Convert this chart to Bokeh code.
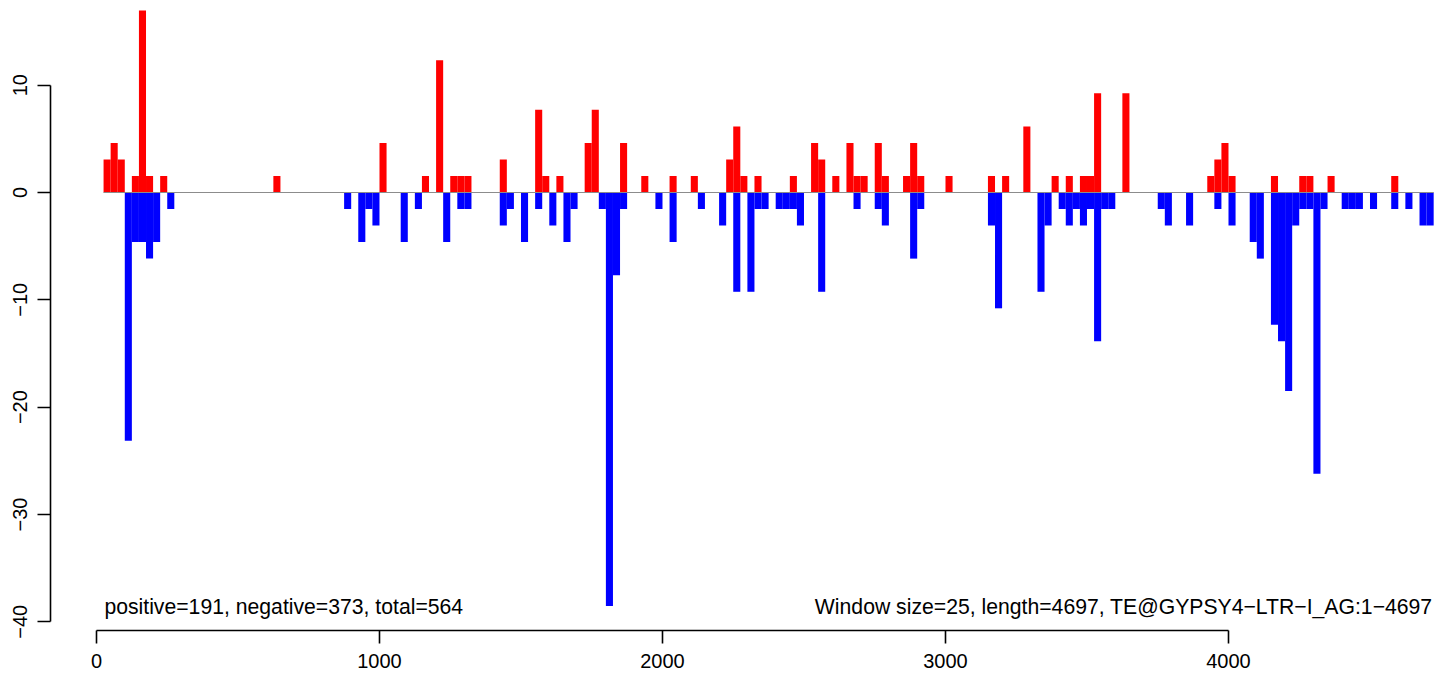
from bokeh.plotting import figure
from bokeh.models import Range1d, FixedTicker, Label
from bokeh.embed import file_html
from bokeh.resources import INLINE

# ---- data ----
window_size = 25
plus_start = [25, 50, 75, 125, 150, 175, 225, 625,
              1000, 1150, 1200, 1250, 1275, 1300, 1425, 1550, 1575,
              1625, 1725, 1750, 1850, 1925, 2025, 2100, 2225, 2250, 2275, 2325,
              2450, 2525, 2550, 2600, 2650, 2675, 2700, 2750, 2775, 2850, 2875, 2900, 3000, 3150, 3200,
              3275, 3375, 3425, 3475, 3500, 3525, 3625, 3925, 3950, 3975, 4000,
              4150, 4250, 4275, 4350, 4575]
plus_value = [3.08, 4.62, 3.08, 1.54, 16.95, 1.54, 1.54, 1.54,
              4.62, 1.54, 12.33, 1.54, 1.54, 1.54, 3.08, 7.71, 1.54,
              1.54, 4.62, 7.71, 4.62, 1.54, 1.54, 1.54, 3.08, 6.16, 1.54, 1.54,
              1.54, 4.62, 3.08, 1.54, 4.62, 1.54, 1.54, 4.62, 1.54, 1.54, 4.62, 1.54, 1.54, 1.54, 1.54,
              6.16, 1.54, 1.54, 1.54, 1.54, 9.25, 9.25, 1.54, 3.08, 4.62, 1.54,
              1.54, 1.54, 1.54, 1.54, 1.54]
minus_start = [100, 125, 150, 175, 200, 250,
               875, 925, 950, 975, 1075, 1125, 1225, 1275, 1300, 1425, 1450, 1500, 1550, 1600,
               1650, 1675, 1775, 1800, 1825, 1850, 1975, 2025, 2125, 2200, 2250, 2300, 2325, 2350, 2400,
               2425, 2450, 2475, 2550, 2675, 2750, 2775, 2875, 2900, 3150, 3175,
               3325, 3350, 3400, 3425, 3450, 3475, 3500, 3525, 3550, 3575, 3750, 3775, 3850, 3950, 4000,
               4075, 4100, 4150, 4175, 4200, 4225, 4250, 4275, 4300, 4325, 4400, 4425, 4450, 4500,
               4575, 4625, 4675, 4700]
minus_value = [-23.12, -4.62, -4.62, -6.16, -4.62, -1.54,
               -1.54, -4.62, -1.54, -3.08, -4.62, -1.54, -4.62, -1.54, -1.54, -3.08, -1.54, -4.62, -1.54, -3.08,
               -4.62, -1.54, -1.54, -38.53, -7.71, -1.54, -1.54, -4.62, -1.54, -3.08, -9.25, -9.25, -1.54, -1.54, -1.54,
               -1.54, -1.54, -3.08, -9.25, -1.54, -1.54, -3.08, -6.16, -1.54, -3.08, -10.79,
               -9.25, -3.08, -1.54, -3.08, -1.54, -3.08, -1.54, -13.87, -1.54, -1.54, -1.54, -3.08, -3.08, -1.54, -3.08,
               -4.62, -6.16, -12.33, -13.87, -18.49, -3.08, -1.54, -1.54, -26.2, -1.54, -1.54, -1.54, -1.54, -1.54,
               -1.54, -1.54, -3.08, -3.08]
x_ticks = [0, 1000, 2000, 3000, 4000]
y_ticks = [-40, -30, -20, -10, 0, 10]
left_note = "positive=191, negative=373, total=564"
right_note = "Window size=25, length=4697, TE@GYPSY4\u2212LTR\u2212I_AG:1\u22124697"

FONT = "Liberation Sans"
TICK_FS = "20px"
NOTE_FS = "21.2px"

p = figure(width=1436, height=678, output_backend="svg", toolbar_location=None,
           x_range=Range1d(-162.5, 4735.0), y_range=Range1d(-40.81, 17.89),
           min_border_left=50, min_border_right=0, min_border_top=0, min_border_bottom=48)
p.outline_line_color = None
p.xgrid.visible = False
p.ygrid.visible = False
p.background_fill_color = "white"
p.border_fill_color = "white"

plus_end = [s + window_size for s in plus_start]
minus_end = [s + window_size for s in minus_start]
p.quad(left=plus_start, right=plus_end, bottom=0, top=plus_value,
       fill_color="#FF0000", line_color=None)
p.quad(left=minus_start, right=minus_end, bottom=0, top=minus_value,
       fill_color="#0000FF", line_color=None)

all_start = plus_start + minus_start
p.segment(x0=[min(all_start)], x1=[max(all_start) + window_size], y0=[0], y1=[0],
          line_color="#8c8c8c", line_width=1.2)

for ax, ticks, bnds in ((p.xaxis[0], x_ticks, (0, 4000)), (p.yaxis[0], y_ticks, (-40, 10))):
    ax.ticker = FixedTicker(ticks=ticks)
    ax.bounds = bnds
    ax.minor_tick_line_color = None
    ax.major_tick_in = 0
    ax.axis_line_width = 1.6
    ax.major_tick_line_width = 1.6
    ax.axis_line_color = "black"
    ax.major_tick_line_color = "black"
    ax.major_label_text_font = FONT
    ax.major_label_text_font_size = TICK_FS
    ax.major_label_text_color = "black"
    ax.major_label_overrides = {t: str(t).replace("-", "\u2212") for t in ticks}

p.xaxis[0].major_tick_out = 13
p.xaxis[0].major_label_standoff = 10
p.yaxis[0].major_tick_out = 13
p.yaxis[0].major_label_standoff = 10
p.yaxis[0].major_label_orientation = "vertical"

p.add_layout(Label(x=28, y=-38.62, text=left_note, text_font=FONT, text_font_size=NOTE_FS,
                   text_align="left", text_baseline="alphabetic", text_color="black"))
p.add_layout(Label(x=4721, y=-38.62, text=right_note, text_font=FONT, text_font_size=NOTE_FS,
                   text_align="right", text_baseline="alphabetic", text_color="black"))

open("out.html", "w").write(file_html(p, INLINE))
